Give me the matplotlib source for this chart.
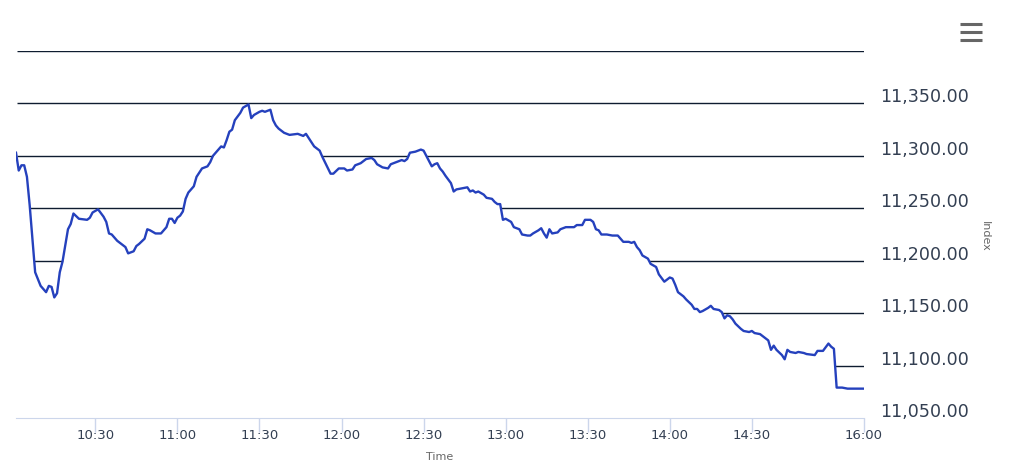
import matplotlib
matplotlib.use("Agg")
import matplotlib.pyplot as plt
import matplotlib.transforms as mtransforms
from matplotlib.lines import Line2D

# intraday index values
times = [
    "10:01", "10:02", "10:03", "10:04", "10:05", "10:06", "10:07", "10:08", "10:10", "10:12",
    "10:13", "10:14", "10:15", "10:16", "10:17", "10:18", "10:20", "10:21", "10:22", "10:24",
    "10:27", "10:28", "10:29", "10:31", "10:33", "10:34", "10:35", "10:36", "10:38", "10:41",
    "10:42", "10:44", "10:45", "10:46", "10:48", "10:49", "10:50", "10:52", "10:54", "10:56",
    "10:57", "10:58", "10:59", "11:00", "11:01", "11:02", "11:03", "11:04", "11:06", "11:07",
    "11:08", "11:09", "11:11", "11:12", "11:13", "11:15", "11:16", "11:17", "11:18", "11:19",
    "11:20", "11:21", "11:23", "11:24", "11:26", "11:27", "11:28", "11:30", "11:31", "11:32",
    "11:33", "11:34", "11:35", "11:36", "11:37", "11:39", "11:41", "11:44", "11:46", "11:47",
    "11:48", "11:50", "11:52", "11:53", "11:56", "11:57", "11:59", "12:01", "12:02", "12:04",
    "12:05", "12:07", "12:09", "12:11", "12:12", "12:13", "12:15", "12:17", "12:18", "12:20",
    "12:22", "12:23", "12:24", "12:25", "12:27", "12:29", "12:30", "12:31", "12:32", "12:33",
    "12:34", "12:35", "12:36", "12:37", "12:38", "12:40", "12:41", "12:42", "12:44", "12:46",
    "12:47", "12:48", "12:49", "12:50", "12:52", "12:53", "12:55", "12:56", "12:57", "12:58",
    "12:59", "13:00", "13:02", "13:03", "13:05", "13:06", "13:08", "13:09", "13:10", "13:12",
    "13:13", "13:14", "13:15", "13:16", "13:17", "13:19", "13:20", "13:22", "13:25", "13:26",
    "13:28", "13:29", "13:31", "13:32", "13:33", "13:34", "13:35", "13:37", "13:39", "13:41",
    "13:42", "13:43", "13:45", "13:46", "13:47", "13:48", "13:49", "13:50", "13:52", "13:53",
    "13:55", "13:56", "13:58", "14:00", "14:01", "14:02", "14:03", "14:05", "14:06", "14:08",
    "14:09", "14:10", "14:11", "14:12", "14:14", "14:15", "14:16", "14:18", "14:19", "14:20",
    "14:21", "14:22", "14:23", "14:24", "14:26", "14:27", "14:29", "14:30", "14:31", "14:33",
    "14:34", "14:36", "14:37", "14:38", "14:39", "14:41", "14:42", "14:43", "14:44", "14:46",
    "14:47", "14:49", "14:50", "14:53", "14:54", "14:56", "14:58", "14:59", "15:00", "15:01",
    "15:03", "15:05", "15:10", "16:00",
]
values = [
    11303, 11286, 11291, 11291, 11280, 11253, 11221, 11189, 11176, 11170,
    11176, 11175, 11165, 11169, 11189, 11199, 11230, 11235, 11245, 11240,
    11239, 11241, 11246, 11249, 11242, 11237, 11226, 11225, 11219, 11213,
    11207, 11209, 11214, 11216, 11221, 11230, 11229, 11226, 11226, 11232,
    11240, 11240, 11236, 11241, 11243, 11247, 11259, 11265, 11271, 11280,
    11284, 11288, 11290, 11294, 11300, 11306, 11309, 11308, 11315, 11323,
    11325, 11334, 11341, 11346, 11349, 11336, 11339, 11342, 11343, 11342,
    11343, 11344, 11334, 11329, 11326, 11322, 11320, 11321, 11319, 11321,
    11317, 11309, 11305, 11299, 11283, 11283, 11288, 11288, 11286, 11287,
    11291, 11293, 11297, 11298, 11296, 11292, 11289, 11288, 11292, 11294,
    11296, 11295, 11297, 11303, 11304, 11306, 11305, 11300, 11295, 11290,
    11292, 11293, 11288, 11285, 11281, 11274, 11266, 11268, 11269, 11270,
    11266, 11267, 11265, 11266, 11263, 11260, 11259, 11256, 11254, 11254,
    11239, 11240, 11237, 11232, 11230, 11225, 11224, 11224, 11226, 11229,
    11231, 11226, 11222, 11230, 11226, 11227, 11230, 11232, 11232, 11234,
    11234, 11239, 11239, 11237, 11230, 11229, 11225, 11225, 11224, 11224,
    11221, 11218, 11218, 11217, 11218, 11213, 11210, 11205, 11202, 11197,
    11194, 11187, 11180, 11184, 11183, 11177, 11170, 11166, 11163, 11158,
    11154, 11154, 11151, 11152, 11155, 11157, 11154, 11153, 11151, 11145,
    11148, 11147, 11144, 11140, 11135, 11133, 11132, 11133, 11131, 11130,
    11128, 11124, 11115, 11119, 11115, 11110, 11106, 11115, 11113, 11112,
    11113, 11112, 11111, 11110, 11114, 11114, 11121, 11118, 11116, 11079,
    11079, 11078, 11078, 11078,
]

tick_labels = ["10:30", "11:00", "11:30", "12:00", "12:30", "13:00", "13:30", "14:00", "14:30", "16:00"]
y_levels = [11050, 11100, 11150, 11200, 11250, 11300, 11350, 11400]


def minutes(t):
    h, m = t.split(":")
    return int(h) * 60 + int(m) - 600


# ordinal axis: the gap between 15:10 and 16:00 is collapsed
def ordinal(t):
    m = minutes(t)
    if m > minutes("15:10"):
        return minutes("15:10") + 1 + (m - minutes("16:00"))
    return m


xs = [ordinal(t) for t in times]

W, H = 1011, 477
fig = plt.figure(figsize=(W / 100, H / 100), dpi=100)
ax = fig.add_axes([16 / W, 1 - 419 / H, (864 - 16) / W, (419 - 52) / H])
ax.set_xlim(xs[0], xs[-1])
ax.set_ylim(y_levels[0], y_levels[-1])

# grid lines sit behind a white area below the series
ax.hlines(y_levels[1:], xs[0] + 0.3, xs[-1], color="#0e1c30", lw=1, zorder=1)
ax.fill_between(xs, values, y_levels[0], color="white", lw=0, zorder=1.5)
ax.plot(xs, values, color="#2541bd", lw=1.7, zorder=3, solid_joinstyle="round")

for s in ["left", "right", "top"]:
    ax.spines[s].set_visible(False)
ax.spines["bottom"].set_color("#ccd6eb")
ax.spines["bottom"].set_zorder(4)

ax.set_xticks([ordinal(t) for t in tick_labels])
ax.set_xticklabels(tick_labels, fontsize=9.5, color="#333f52")
ax.tick_params(axis="x", length=10, width=1, color="#ccd6eb", pad=-3)
ax.set_yticks([])

# y labels on the right, slightly above their grid lines
trans = mtransforms.offset_copy(ax.get_yaxis_transform(), fig=fig, x=16, y=7, units="dots")
for lv in y_levels[:-1]:
    ax.text(1.0, lv, f"{lv:,.2f}", transform=trans, fontsize=12.6, color="#333f52",
            ha="left", va="center")

fig.text(440 / W, 1 - 457 / H, "Time", fontsize=8, color="#666666", ha="center", va="center")
fig.text(985 / W, 1 - 236 / H, "Index", fontsize=8, color="#666666", ha="center", va="center",
         rotation=-90)

# menu button
for yy in [25, 33, 41]:
    fig.add_artist(Line2D([960 / W, 982 / W], [1 - yy / H, 1 - yy / H], color="#666666", lw=2.2,
                          solid_capstyle="butt"))

fig.savefig("out.png", dpi=100)
